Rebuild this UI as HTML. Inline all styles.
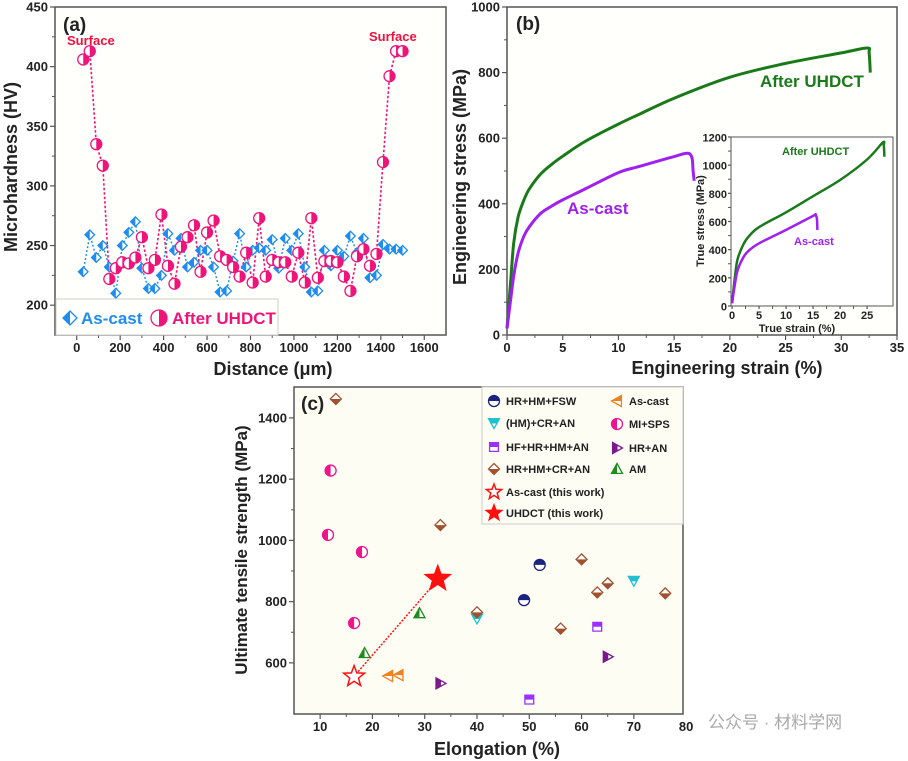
<!DOCTYPE html>
<html><head><meta charset="utf-8"><style>
html,body{margin:0;padding:0;background:#fff}
svg{display:block;font-family:"Liberation Sans",Arial,"Noto Sans CJK SC",sans-serif;font-weight:bold}
</style></head><body>
<svg id="fig" width="908" height="761" viewBox="0 0 908 761" xmlns="http://www.w3.org/2000/svg">
<defs>
<clipPath id="cl" clipPathUnits="objectBoundingBox"><rect x="0" y="0" width="0.5" height="1"/></clipPath>
<clipPath id="cr" clipPathUnits="objectBoundingBox"><rect x="0.5" y="0" width="0.5" height="1"/></clipPath>
<clipPath id="ct" clipPathUnits="objectBoundingBox"><rect x="0" y="0" width="1" height="0.5"/></clipPath>
<clipPath id="cb" clipPathUnits="objectBoundingBox"><rect x="0" y="0.5" width="1" height="0.5"/></clipPath>
</defs>
<g id="pa"></g>
<g id="pb"></g>
<g id="pc"></g>
<text x="708" y="728" font-size="17" fill="#aaa" font-weight="normal">公众号 · 材料学网</text>
</svg>
<script>
// ---------- Panel (a) data ----------
const aDist=[30,60,90,120,150,180,210,240,270,300,330,360,390,420,450,480,510,540,570,600,630,660,690,720,750,780,810,840,870,900,930,960,990,1020,1050,1080,1110,1140,1170,1200,1230,1260,1290,1320,1350,1380,1410,1440,1470,1500];
const aUhdct=[406,413,335,317,222,231,236,235,240,257,231,238,276,233,218,249,257,267,228,261,271,241,238,232,224,244,219,273,224,238,236,236,224,244,219,273,223,237,237,236,224,212,241,247,233,243,320,392,413,413];
const aAscast=[228,259,240,250,232,210,250,261,270,231,214,214,225,260,246,256,232,236,246,246,232,211,212,237,260,232,246,248,246,255,231,256,246,260,232,211,212,246,233,246,241,258,244,256,223,225,251,247,247,246];
const aXTicks=[0,200,400,600,800,1000,1200,1400,1600];
const aYTicks=[200,250,300,350,400,450];
// ---------- Panel (b) data ----------
const bStrainU=[0,0.3,0.6,1,1.5,2,3,4,5,7,10,12,15,20,25,30,32.3,32.5,32.6];
const bStressU=[20,150,280,360,410,445,490,520,545,590,643,675,722,786,828,860,875,860,800];
const bStrainA=[0,0.3,0.6,1,1.5,2,3,4,5,7,10,12,15,16.2,16.6,16.7,16.8];
const bStressA=[20,100,180,250,300,330,370,393,412,445,495,515,544,554,540,500,470];
const bXTicks=[0,5,10,15,20,25,30,35];
const bYTicks=[0,200,400,600,800,1000];
const iStrainU=[0,0.5,1,2,3,5,10,15,20,25,27.9,28.1,28.2];
const iStressU=[20,200,330,430,490,560,665,780,895,1040,1160,1140,1060];
const iStrainA=[0,0.5,1,2,3,5,10,15,15.4,15.7,15.8];
const iStressA=[20,150,250,340,390,445,540,640,648,620,540];
const iXTicks=[0,5,10,15,20,25];
const iYTicks=[0,200,400,600,800,1000,1200];
// ---------- Panel (c) data ----------
const cFswEl=[49,52], cFswUts=[805,920];
const cCrEl=[40,70], cCrUts=[745,868];
const cHfEl=[50,63], cHfUts=[480,718];
const cHmcrEl=[13,33,40,56,60,63,65,76], cHmcrUts=[1462,1050,765,712,938,830,860,827];
const cCastEl=[23,25], cCastUts=[557,560];
const cSpsEl=[12,11.5,18,16.5], cSpsUts=[1228,1018,962,730];
const cHrEl=[33,65], cHrUts=[533,620];
const cAmEl=[18.5,29], cAmUts=[632,762];
const cThisCastEl=[16.5], cThisCastUts=[555];
const cThisUEl=[32.5], cThisUUts=[875];
const cXTicks=[10,20,30,40,50,60,70,80];
const cYTicks=[600,800,1000,1200,1400];

const NS="http://www.w3.org/2000/svg";
function el(p,tag,at,txt){const e=document.createElementNS(NS,tag);for(const k in at)e.setAttribute(k,at[k]);if(txt!==undefined)e.textContent=txt;p.appendChild(e);return e;}
function lin(d0,d1,r0,r1){return v=>r0+(v-d0)*(r1-r0)/(d1-d0);}
function axes(g,o){
  const X=lin(o.xd[0],o.xd[1],o.l,o.r),Y=lin(o.yd[0],o.yd[1],o.b,o.t);
  const box=el(g,'rect',{x:o.l,y:o.t,width:o.r-o.l,height:o.b-o.t,fill:o.bg||'#fffffb',stroke:'#555','stroke-width':o.sw||1.5});
  
  
  const xa=el(g,'g',{});
  
  
  o.xt.forEach((v,i)=>{const x=X(v);el(xa,'line',{x1:x,x2:x,y1:o.b,y2:o.b+(o.tl||5),stroke:'#555','stroke-width':1.2});
    const t=el(xa,'text',{x:x,y:o.b+(o.xo||17),'text-anchor':'middle','font-size':o.fs||13,fill:'#222'},String(v));
    
    
    if(i<o.xt.length-1){const m=X((v+o.xt[i+1])/2);el(xa,'line',{x1:m,x2:m,y1:o.b,y2:o.b+3,stroke:'#555','stroke-width':1});}});
  const ya=el(g,'g',{});
  
  
  o.yt.forEach((v,i)=>{const y=Y(v);el(ya,'line',{x1:o.l-(o.tl||5),x2:o.l,y1:y,y2:y,stroke:'#555','stroke-width':1.2});
    const t=el(ya,'text',{x:o.l-(o.yo||7),y:y+4.5,'text-anchor':'end','font-size':o.fs||13,fill:'#222'},String(v));
    
    
    if(i<o.yt.length-1){const m=Y((v+o.yt[i+1])/2);el(ya,'line',{x1:o.l-3,x2:o.l,y1:m,y2:m,stroke:'#555','stroke-width':1});}});
  return [X,Y];
}
function pathOf(xs,ys,X,Y){return xs.map((v,i)=>(i?'L':'M')+X(v).toFixed(1)+','+Y(ys[i]).toFixed(1)).join('');}
function smoothOf(xs,ys,X,Y){
  const p=xs.map((v,i)=>[X(v),Y(ys[i])]);
  let d='M'+p[0][0].toFixed(1)+','+p[0][1].toFixed(1);
  for(let i=0;i<p.length-1;i++){
    const p0=p[Math.max(0,i-1)],p1=p[i],p2=p[i+1],p3=p[Math.min(p.length-1,i+2)];
    const c1=[p1[0]+(p2[0]-p0[0])/6,p1[1]+(p2[1]-p0[1])/6],c2=[p2[0]-(p3[0]-p1[0])/6,p2[1]-(p3[1]-p1[1])/6];
    d+=`C${c1[0].toFixed(1)},${c1[1].toFixed(1)} ${c2[0].toFixed(1)},${c2[1].toFixed(1)} ${p2[0].toFixed(1)},${p2[1].toFixed(1)}`;
  }
  return d;
}
function shape(g,kind,cx,cy,r,color,clip,name){
  let d;
  if(kind==='circle')d=`M${cx-r},${cy}a${r},${r} 0 1,0 ${2*r},0a${r},${r} 0 1,0 ${-2*r},0Z`;
  else if(kind==='diamond')d=`M${cx},${cy-r}L${cx+r},${cy}L${cx},${cy+r}L${cx-r},${cy}Z`;
  else if(kind==='square')d=`M${cx-r*.8},${cy-r*.8}h${1.6*r}v${1.6*r}h${-1.6*r}Z`;
  else if(kind==='down')d=`M${cx-r},${cy-r*.8}L${cx+r},${cy-r*.8}L${cx},${cy+r}Z`;
  else if(kind==='up')d=`M${cx-r},${cy+r*.8}L${cx+r},${cy+r*.8}L${cx},${cy-r}Z`;
  else if(kind==='left')d=`M${cx+r*.8},${cy-r}L${cx+r*.8},${cy+r}L${cx-r},${cy}Z`;
  else if(kind==='right')d=`M${cx-r*.8},${cy-r}L${cx-r*.8},${cy+r}L${cx+r},${cy}Z`;
  const m=el(g,'g',{});
  
  
  el(m,'path',{d:d,fill:'#fff',stroke:color,'stroke-width':1.3});
  el(m,'path',{d:d,fill:color,'clip-path':'url(#'+clip+')'});
  return m;
}
function star(g,cx,cy,r,fill,stroke,name){
  let pts=[];for(let i=0;i<10;i++){const a=-Math.PI/2+i*Math.PI/5,rr=i%2?r*0.42:r;pts.push((cx+rr*Math.cos(a)).toFixed(1)+','+(cy+rr*Math.sin(a)).toFixed(1));}
  const p=el(g,'polygon',{points:pts.join(' '),fill:fill,stroke:stroke,'stroke-width':1.5});
  
  
}
function txt(g,x,y,s,size,color,name,anchor,rot){
  const a={x:x,y:y,'font-size':size,fill:color,'text-anchor':anchor||'start'};
  if(rot)a.transform=`rotate(-90 ${x} ${y})`;
  const t=el(g,'text',a,s);
  
  
  return t;
}

// ===== Panel A =====
(function(){
  const g=document.getElementById('pa');
  const [X,Y]=axes(g,{l:55,r:446,t:7,b:335,xd:[-100,1700],yd:[175,450],xt:aXTicks,yt:aYTicks});
  const blue='#1e8cf0',pink='#f0147a';
  const lb=el(g,'path',{d:pathOf(aDist,aAscast,X,Y),fill:'none',stroke:blue,'stroke-width':1.4,'stroke-dasharray':'2,2'});
  
  
  const lp=el(g,'path',{d:pathOf(aDist,aUhdct,X,Y),fill:'none',stroke:pink,'stroke-width':1.6,'stroke-dasharray':'2.5,2'});
  
  
  aDist.forEach((d,i)=>shape(g,'diamond',X(d),Y(aAscast[i]),4.8,blue,'cl','as-cast-point'));
  aDist.forEach((d,i)=>shape(g,'circle',X(d),Y(aUhdct[i]),5.5,pink,'cr','uhdct-point'));
  const lg=el(g,'g',{});
  
  
  el(lg,'rect',{x:56,y:299,width:222,height:36,fill:'#fffffb',stroke:'#ccc'});
  shape(lg,'diamond',70,318,7,blue,'cl','legend-marker-as-cast');
  txt(lg,81,324,'As-cast',17,blue,'legend-label-as-cast');
  shape(lg,'circle',159,318,8,pink,'cr','legend-marker-uhdct');
  txt(lg,172,324,'After UHDCT',17,pink,'legend-label-uhdct');
  txt(g,63,31,'(a)',19,'#222','panel-label-a');
  txt(g,67,45,'Surface',13,'#f01040','surface-label-left');
  txt(g,369,41,'Surface',13,'#f01040','surface-label-right');
  txt(g,17,167,'Microhardness (HV)',18,'#222','y-axis-title','middle',true);
  txt(g,273,375,'Distance (μm)',18,'#222','x-axis-title','middle');
})();

// ===== Panel B =====
(function(){
  const g=document.getElementById('pb');
  const [X,Y]=axes(g,{l:507,r:897,t:7,b:335,xd:[0,35],yd:[0,1000],xt:bXTicks,yt:bYTicks});
  const green='#1a7a1a',purple='#a020f0';
  const u=el(g,'path',{d:smoothOf(bStrainU,bStressU,X,Y),fill:'none',stroke:green,'stroke-width':3});
  
  
  const a=el(g,'path',{d:smoothOf(bStrainA,bStressA,X,Y),fill:'none',stroke:purple,'stroke-width':3});
  
  
  txt(g,760,87,'After UHDCT',17,green,'uhdct-label');
  txt(g,567,214,'As-cast',17,purple,'as-cast-label');
  txt(g,516,30,'(b)',19,'#222','panel-label-b');
  txt(g,466,177,'Engineering stress (MPa)',18,'#222','y-axis-title','middle',true);
  txt(g,727,374,'Engineering strain (%)',18,'#222','x-axis-title','middle');
  // inset
  const ig=el(g,'g',{});
  
  
  const [IX,IY]=axes(ig,{l:731,r:893,t:137,b:306,xd:[-0.2,29.8],yd:[0,1200],xt:iXTicks,yt:iYTicks,fs:11,tl:3,xo:13,yo:4,sw:1,bg:'#fff'});
  const iu=el(ig,'path',{d:smoothOf(iStrainU,iStressU,IX,IY),fill:'none',stroke:green,'stroke-width':2.5});
  
  
  const ia=el(ig,'path',{d:smoothOf(iStrainA,iStressA,IX,IY),fill:'none',stroke:purple,'stroke-width':2.5});
  
  
  txt(ig,782,155,'After UHDCT',11,green,'inset-uhdct-label');
  txt(ig,794,245,'As-cast',11,purple,'inset-as-cast-label');
  txt(ig,704,221,'True stress (MPa)',11,'#222','inset-y-axis-title','middle',true);
  txt(ig,797,332,'True strain (%)',11,'#222','inset-x-axis-title','middle');
})();

// ===== Panel C =====
(function(){
  const g=document.getElementById('pc');
  const [X,Y]=axes(g,{l:294,r:683,t:387,b:714,xd:[5,79.4],yd:[433,1501],xt:cXTicks.slice(0,7),yt:cYTicks,bg:'#fdfdf4'});
  txt(g,X(80),731,'80',13,'#222','x-tick-label','middle');
  const navy='#1a237e',cyan='#20c0d0',vio='#9b30ff',brown='#a0522d',orange='#f0821e',pink='#f0148c',pur='#7a1a8a',grn='#1e8c1e',red='#ff1010';
  const sets=[[cFswEl,cFswUts,'circle',navy,'ct','hr-hm-fsw-point'],[cCrEl,cCrUts,'down',cyan,'ct','hm-cr-an-point'],
    [cHfEl,cHfUts,'square',vio,'ct','hf-hr-hm-an-point'],[cHmcrEl,cHmcrUts,'diamond',brown,'cb','hr-hm-cr-an-point'],
    [cCastEl,cCastUts,'left',orange,'ct','as-cast-lit-point'],[cSpsEl,cSpsUts,'circle',pink,'cl','mi-sps-point'],
    [cHrEl,cHrUts,'right',pur,'cl','hr-an-point'],[cAmEl,cAmUts,'up',grn,'cl','am-point']];
  sets.forEach(s=>s[0].forEach((v,i)=>shape(g,s[2],X(v),Y(s[1][i]),5.5,s[3],s[4],s[5])));
  const ar=el(g,'line',{x1:X(cThisCastEl[0])+4,y1:Y(cThisCastUts[0])-5,x2:X(cThisUEl[0])-6,y2:Y(cThisUUts[0])+8,stroke:red,'stroke-width':1.5,'stroke-dasharray':'2,1.5'});
  
  
  star(g,X(cThisCastEl[0]),Y(cThisCastUts[0]),11,'#fff',red,'as-cast-this-work-star');
  star(g,X(cThisUEl[0]),Y(cThisUUts[0]),13,red,red,'uhdct-this-work-star');
  txt(g,301,410,'(c)',19,'#222','panel-label-c');
  txt(g,247,550,'Ultimate tensile strength (MPa)',17,'#222','y-axis-title','middle',true);
  txt(g,497,755,'Elongation (%)',18,'#222','x-axis-title','middle');
  const lg=el(g,'g',{});
  
  
  el(lg,'rect',{x:482,y:387,width:201,height:137,fill:'#fdfdf4',stroke:'#ccc'});
  const items=[['circle',navy,'ct','HR+HM+FSW',494,401],['down',cyan,'ct','(HM)+CR+AN',494,423],['square',vio,'ct','HF+HR+HM+AN',494,447],
    ['diamond',brown,'cb','HR+HM+CR+AN',494,469],['left',orange,'ct','As-cast',617,401],['circle',pink,'cl','MI+SPS',617,424],
    ['right',pur,'cl','HR+AN',617,448],['up',grn,'cl','AM',617,469]];
  items.forEach(it=>{shape(lg,it[0],it[4],it[5],5.5,it[1],it[2],'legend-marker');txt(lg,it[4]+12,it[5]+4,it[3],11,'#222','legend-label');});
  star(lg,494,492,8,'#fff',red,'legend-marker');
  txt(lg,506,496,'As-cast (this work)',11,'#222','legend-label');
  star(lg,494,513,8,red,red,'legend-marker');
  txt(lg,506,517,'UHDCT (this work)',11,'#222','legend-label');
})();
</script>
</body></html>
